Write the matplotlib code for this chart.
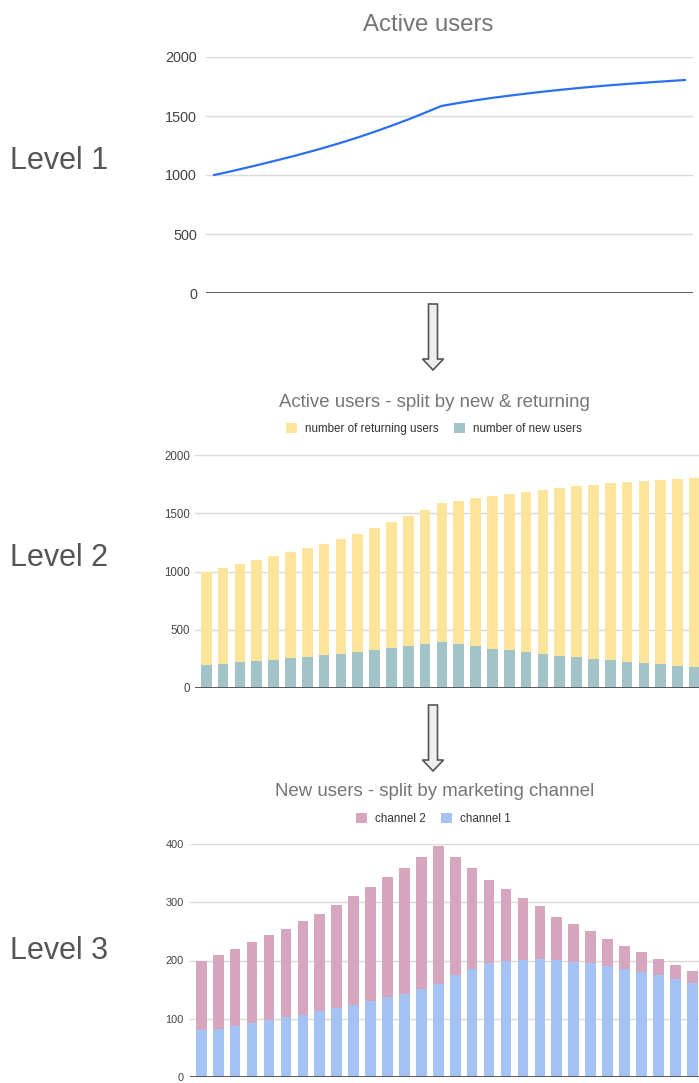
import numpy as np
import matplotlib
matplotlib.use("Agg")
import matplotlib.pyplot as plt
from matplotlib.patches import Polygon

plt.rcParams['font.family'] = ['Liberation Sans', 'DejaVu Sans']

# -------------------------------
# Data: 30 periods
# -------------------------------
total_users = [1000, 1030, 1062, 1095, 1129, 1164, 1201, 1240, 1281, 1325,
               1372, 1421, 1473, 1528, 1585, 1609, 1631, 1651, 1669, 1686,
               1702, 1717, 1731, 1744, 1756, 1767, 1777, 1787, 1796, 1805]
new_users = [200, 209, 220, 232, 243, 254, 267, 280, 295, 310,
             327, 343, 359, 377, 397, 377, 358, 339, 323, 307,
             293, 275, 263, 250, 237, 225, 214, 203, 193, 182]
channel_1 = [81, 83, 88, 93, 98, 103, 107, 113, 118, 123,
             131, 137, 143, 151, 160, 175, 186, 195, 199, 201,
             202, 201, 198, 195, 191, 186, 181, 175, 168, 161]

total_users = np.array(total_users)
new_users = np.array(new_users)
channel_1 = np.array(channel_1)
returning_users = total_users - new_users
channel_2 = new_users - channel_1
periods = np.arange(len(total_users))

W, H = 699, 1083
fig = plt.figure(figsize=(W / 100, H / 100), dpi=100)


def px_axes(left, top, right, bottom):
    # pixel box -> figure fraction axes
    return fig.add_axes([left / W, 1 - bottom / H, (right - left) / W, (bottom - top) / H])


def style_axes(ax, ticks, fontsize, pad):
    for s in ax.spines.values():
        s.set_visible(False)
    ax.set_yticks(ticks)
    ax.set_xticks([])
    ax.tick_params(axis='y', length=0, labelsize=fontsize, labelcolor='#444444', pad=pad)
    ax.yaxis.grid(True, color='#d9d9d9', linewidth=1)
    ax.set_axisbelow(True)
    ax.axhline(0, color='#4d4d4d', linewidth=1.3, zorder=5)


def down_arrow(cx, top, tip):
    shaft, head_w, head_h = 4.5, 10.5, 11
    pts = [(cx - shaft, top), (cx + shaft, top), (cx + shaft, tip - head_h),
           (cx + head_w, tip - head_h), (cx, tip), (cx - head_w, tip - head_h),
           (cx - shaft, tip - head_h)]
    pts = [(x / 100, (H - y) / 100) for x, y in pts]
    fig.patches.append(Polygon(pts, closed=True, facecolor='#eeeeee', edgecolor='#555555',
                               linewidth=1.2, transform=fig.dpi_scale_trans))


# -------------------------------
# Level 1: line
# -------------------------------
ax1 = px_axes(206, 57, 693, 293)
ax1.plot(periods, total_users, color='#2b6ff0', linewidth=1.6, zorder=4)
ax1.set_xlim(-0.5, 29.5)
ax1.set_ylim(0, 2000)
style_axes(ax1, [0, 500, 1000, 1500, 2000], 10.4, 6.5)
fig.text(428.5 / W, 1 - 30.7 / H, "Active users", ha='center', va='baseline',
         fontsize=17.3, color='#757575')

# -------------------------------
# Level 2: new vs returning
# -------------------------------
ax2 = px_axes(195, 455, 699, 688)
b_new = ax2.bar(periods, new_users, width=0.63, color='#a2c4c9', zorder=3)
b_ret = ax2.bar(periods, returning_users, width=0.63, bottom=new_users,
                color='#fde49b', zorder=3)
ax2.set_xlim(-0.67, 29.27)
ax2.set_ylim(0, 2000)
style_axes(ax2, [0, 500, 1000, 1500, 2000], 8.3, 3.7)
fig.text(434.5 / W, 1 - 406.7 / H, "Active users - split by new & returning",
         ha='center', va='baseline', fontsize=13.4, color='#757575')
fig.legend([b_ret, b_new], ["number of returning users", "number of new users"],
           loc='center', bbox_to_anchor=(434 / W, 1 - 429 / H), ncol=2, frameon=False,
           fontsize=8.4, handlelength=0.95, handleheight=0.95, handletextpad=0.7,
           columnspacing=1.3, labelcolor='#333333')

# -------------------------------
# Level 3: channels
# -------------------------------
ax3 = px_axes(190, 844, 699, 1077)
b_c1 = ax3.bar(periods, channel_1, width=0.63, color='#a4c2f4', zorder=3)
b_c2 = ax3.bar(periods, channel_2, width=0.63, bottom=channel_1,
               color='#d5a6bd', zorder=3)
ax3.set_xlim(-0.667, 29.4)
ax3.set_ylim(0, 400)
style_axes(ax3, [0, 100, 200, 300, 400], 7.9, 4.3)
fig.text(434.5 / W, 1 - 795.7 / H, "New users - split by marketing channel",
         ha='center', va='baseline', fontsize=13.4, color='#757575')
fig.legend([b_c2, b_c1], ["channel 2", "channel 1"],
           loc='center', bbox_to_anchor=(433.6 / W, 1 - 819 / H), ncol=2, frameon=False,
           fontsize=8.4, handlelength=0.95, handleheight=0.95, handletextpad=0.7,
           columnspacing=1.3, labelcolor='#333333')

# level labels + arrows
for label, base in [("Level 1", 169), ("Level 2", 566), ("Level 3", 959)]:
    fig.text(10 / W, 1 - base / H, label, ha='left', va='baseline',
             fontsize=22, color='#555555')

down_arrow(433, 304, 370)
down_arrow(433, 705, 771)

fig.savefig("out.png", dpi=100)
